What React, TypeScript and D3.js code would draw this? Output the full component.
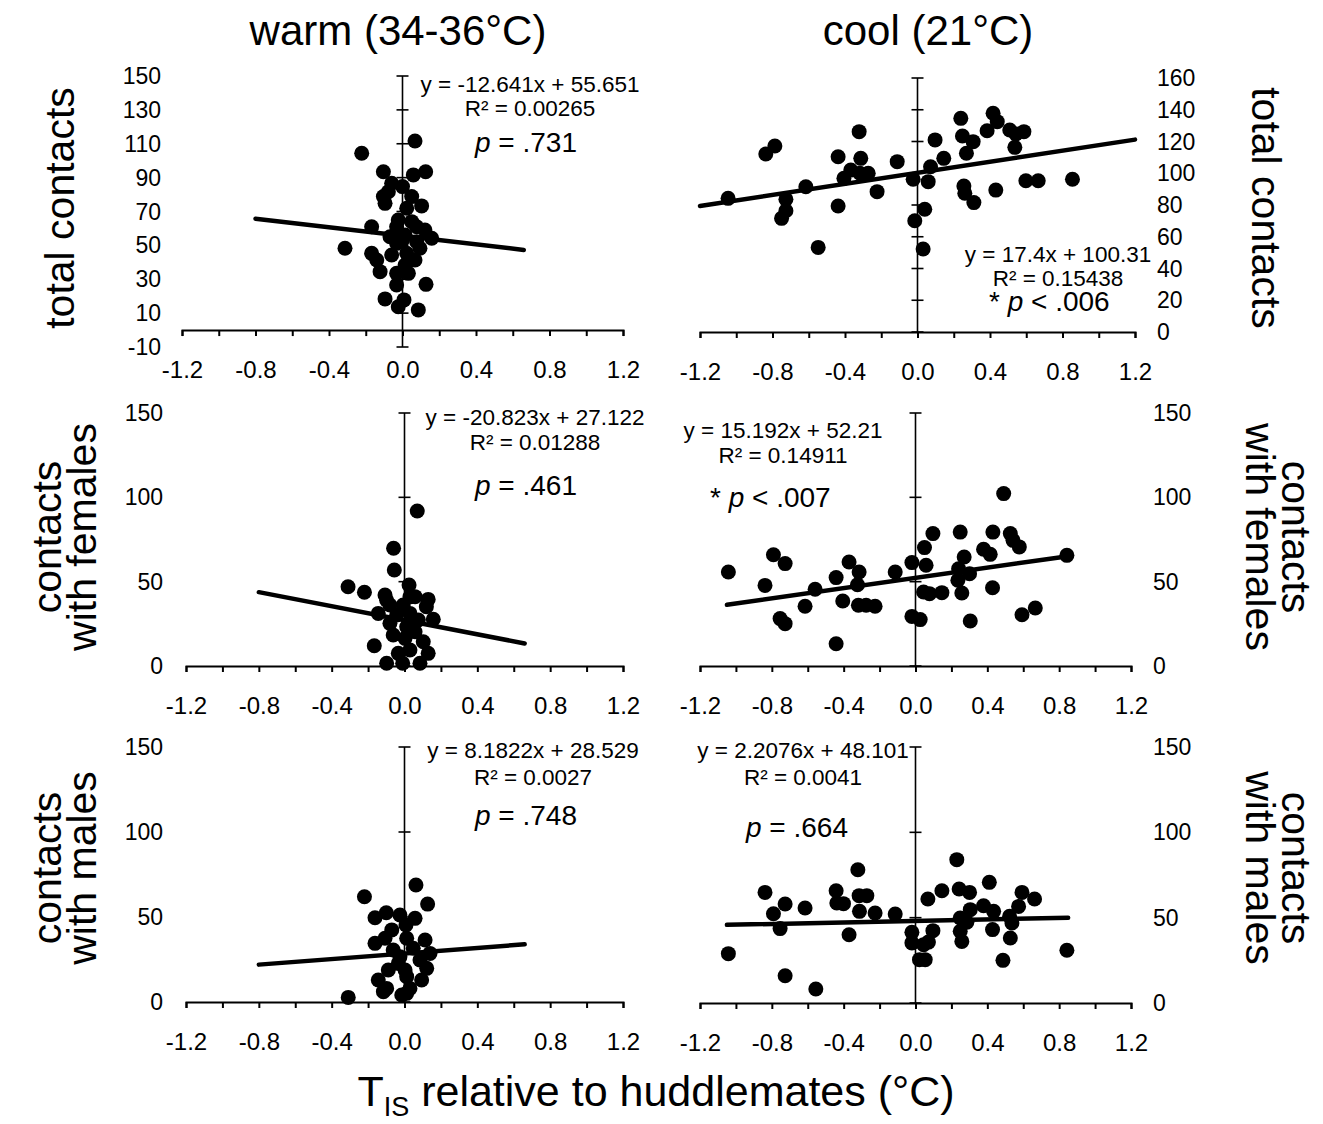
import React, { useEffect, useRef } from 'react';
import * as d3 from 'd3';

const W = 1323;
const H = 1124;
const FONT = '"Liberation Sans", Arial, Helvetica, sans-serif';

// ---- data: [T_IS relative (°C), contacts] ----
const warmTotal: [number, number][] = [
  [0.068, 111.6], [-0.222, 104.4], [-0.104, 93.5], [0.059, 91.6], [0.126, 93.5], [-0.059, 86.7],
  [0.0, 84.7], [-0.077, 81.7], [-0.104, 78.8], [0.05, 78.8], [-0.095, 74.8], [0.104, 73.3],
  [0.023, 71.9], [-0.023, 65], [0.05, 64], [-0.168, 61], [-0.032, 61], [0.122, 59.1],
  [-0.068, 55.1], [0.014, 56.1], [0.159, 54.2], [0.077, 52.2], [-0.313, 48.3], [-0.032, 51.2],
  [0.095, 48.3], [-0.168, 45.3], [-0.059, 44.3], [0.023, 45.3], [-0.14, 41.4], [0.068, 41.4],
  [0.014, 38.4], [-0.122, 34.5], [-0.032, 33.5], [0.032, 33.5], [-0.032, 26.6], [0.128, 27],
  [-0.095, 18.4], [0.008, 17.8], [-0.023, 13.8], [0.086, 11.9], [0.077, 61], [0.0, 53.2],
];

const warmFemales: [number, number][] = [
  [0.07, 91.9], [-0.06, 69.8], [-0.056, 56.9], [0.025, 48], [-0.31, 47], [-0.22, 43.7],
  [-0.107, 42.1], [0.058, 41.1], [0.13, 39.5], [-0.08, 36.2], [-0.007, 36.2], [0.12, 35.2],
  [-0.144, 31.2], [-0.043, 30.2], [0.03, 31.2], [0.076, 27.3], [0.158, 27.7], [-0.08, 25.3],
  [0.012, 23.3], [0.058, 20.3], [-0.062, 18.4], [0.003, 16.4], [0.103, 14.4], [-0.166, 12],
  [-0.034, 7.5], [0.03, 9.5], [0.13, 7.5], [-0.098, 1.6], [-0.01, 1.6], [0.085, 1.6],
  [-0.098, 39], [0.03, 41],
];

const warmMales: [number, number][] = [
  [0.063, 68.8], [-0.22, 61.9], [0.127, 57.6], [-0.162, 49.6], [-0.1, 52.5], [-0.025, 51.2],
  [0.058, 49.2], [0.008, 45.3], [-0.07, 42.4], [-0.107, 37.5], [-0.162, 34.5], [0.012, 37.5],
  [0.113, 36.5], [-0.062, 30.6], [0.048, 31.6], [0.14, 28.6], [-0.025, 26.6], [0.085, 24.7],
  [-0.089, 18.8], [0.003, 18.8], [0.122, 19.8], [-0.144, 12.9], [0.012, 14.9], [0.094, 12.9],
  [-0.116, 6.1], [-0.098, 8], [0.012, 5.1], [0.03, 8], [-0.309, 2.7], [-0.015, 4.1],
  [-0.034, 22.7],
];

const coolTotal: [number, number][] = [
  [-1.045, 84.2], [-0.837, 112.1], [-0.787, 117.2], [-0.726, 83.6], [-0.726, 76.4], [-0.75, 71.6],
  [-0.616, 91.5], [-0.548, 53.3], [-0.438, 110.4], [-0.438, 79.4], [-0.406, 96.8], [-0.368, 102],
  [-0.322, 126.2], [-0.313, 109.4], [-0.318, 100], [-0.272, 100], [-0.223, 88.4], [-0.112, 107.3],
  [-0.024, 96.2], [-0.015, 70.1], [0.04, 77.3], [0.031, 52.3], [0.059, 94.7], [0.072, 104.1],
  [0.097, 121], [0.145, 109.4], [0.239, 134.6], [0.248, 123.5], [0.27, 112.6], [0.307, 119.9],
  [0.256, 92], [0.261, 87.4], [0.311, 81.5], [0.384, 126.8], [0.417, 137.8], [0.44, 132.5],
  [0.432, 89.4], [0.509, 127.2], [0.543, 124.7], [0.587, 126.2], [0.537, 116.3], [0.598, 95.3],
  [0.666, 95.3], [0.855, 96.2],
];

const coolFemales: [number, number][] = [
  [-1.042, 55.7], [-0.838, 47.8], [-0.791, 66], [-0.726, 60.7], [-0.754, 28.1], [-0.726, 25.1],
  [-0.615, 35.4], [-0.559, 45.5], [-0.442, 52.4], [-0.442, 13.2], [-0.405, 38.5], [-0.37, 61.7],
  [-0.314, 55.7], [-0.323, 48.2], [-0.318, 36], [-0.275, 36], [-0.225, 35.4], [-0.113, 55.7],
  [-0.02, 61.3], [-0.02, 29.4], [0.026, 27.5], [0.05, 70.2], [0.059, 59.7], [0.045, 43.9],
  [0.078, 42.9], [0.097, 78.5], [0.147, 43.5], [0.249, 79.4], [0.24, 57.7], [0.236, 50.8],
  [0.258, 43.3], [0.271, 64.6], [0.301, 54.7], [0.305, 26.7], [0.379, 69.2], [0.416, 66.2],
  [0.431, 79.4], [0.429, 46.4], [0.491, 102.2], [0.528, 78.5], [0.543, 74.5], [0.578, 70.6],
  [0.593, 30.4], [0.667, 34.4], [0.843, 65.6],
];

const coolMales: [number, number][] = [
  [-1.042, 28.9], [-0.838, 64.8], [-0.791, 52.3], [-0.726, 58], [-0.754, 43.6], [-0.726, 16],
  [-0.615, 55.7], [-0.555, 8.2], [-0.442, 65.8], [-0.438, 58.6], [-0.401, 58.2], [-0.37, 40],
  [-0.321, 78.1], [-0.314, 62.9], [-0.271, 62.9], [-0.312, 53.7], [-0.225, 52.7], [-0.113, 52.1],
  [-0.02, 41.4], [-0.02, 35.2], [0.022, 25.4], [0.054, 25.4], [0.045, 34.2], [0.072, 35.7],
  [0.069, 60.9], [0.097, 42.4], [0.147, 65.8], [0.23, 84], [0.243, 66.8], [0.301, 64.8],
  [0.249, 49.8], [0.249, 42], [0.258, 36.1], [0.305, 54.7], [0.286, 47.3], [0.379, 57],
  [0.411, 70.7], [0.435, 53.7], [0.429, 43], [0.487, 25], [0.524, 50.8], [0.537, 46.9],
  [0.528, 38.1], [0.574, 56.6], [0.593, 64.8], [0.663, 60.9], [0.843, 30.9],
];

// linear fits: [slope, intercept, x from, x to]
const warmTotalFit = [-12.641, 55.651, -0.8, 0.66];
const warmFemalesFit = [-20.823, 27.122, -0.8, 0.66];
const warmMalesFit = [8.1822, 28.529, -0.8, 0.66];
const coolTotalFit = [17.4, 100.31, -1.2, 1.2];
const coolFemalesFit = [15.192, 52.21, -1.05, 0.85];
const coolMalesFit = [2.2076, 48.101, -1.05, 0.85];

// annotation text: [equation, R², p statement, significant?]
const warmTotalNote = ['y = -12.641x + 55.651', 'R² = 0.00265', '= .731', false];
const warmFemalesNote = ['y = -20.823x + 27.122', 'R² = 0.01288', '= .461', false];
const warmMalesNote = ['y = 8.1822x + 28.529', 'R² = 0.0027', '= .748', false];
const coolTotalNote = ['y = 17.4x + 100.31', 'R² = 0.15438', '< .006', true];
const coolFemalesNote = ['y = 15.192x + 52.21', 'R² = 0.14911', '< .007', true];
const coolMalesNote = ['y = 2.2076x + 48.101', 'R² = 0.0041', '= .664', false];

const xTicks = d3.range(-6, 7).map(i => i / 5); // -1.2 … 1.2 every 0.2
const totalWarmTicks = d3.range(-10, 151, 20);
const totalCoolTicks = d3.range(0, 161, 20);
const partnerTicks = [0, 50, 100, 150];

const columnTitles = ['warm (34-36°C)', 'cool (21°C)'];
const rowTitles = [['total contacts'], ['contacts', 'with females'], ['contacts', 'with males']];

const panels = [
  { data: warmTotal, fit: warmTotalFit, note: warmTotalNote, xr: [182, 623], yd: [-10, 150], yr: [347, 76], yt: totalWarmTicks, side: 'left', lx: 161, nx: 530, eqY: 92, r2Y: 116, px: 475, pY: 152 },
  { data: coolTotal, fit: coolTotalFit, note: coolTotalNote, xr: [700, 1135], yd: [0, 160], yr: [332, 78], yt: totalCoolTicks, side: 'right', lx: 1157, nx: 1058, eqY: 262, r2Y: 286, px: 989, pY: 311 },
  { data: warmFemales, fit: warmFemalesFit, note: warmFemalesNote, xr: [186, 623], yd: [0, 150], yr: [666, 413], yt: partnerTicks, side: 'left', lx: 163, nx: 535, eqY: 425, r2Y: 450, px: 475, pY: 495 },
  { data: coolFemales, fit: coolFemalesFit, note: coolFemalesNote, xr: [700, 1131], yd: [0, 150], yr: [666, 413], yt: partnerTicks, side: 'right', lx: 1153, nx: 783, eqY: 438, r2Y: 463, px: 710, pY: 507 },
  { data: warmMales, fit: warmMalesFit, note: warmMalesNote, xr: [186, 623], yd: [0, 150], yr: [1002, 747], yt: partnerTicks, side: 'left', lx: 163, nx: 533, eqY: 758, r2Y: 785, px: 475, pY: 825 },
  { data: coolMales, fit: coolMalesFit, note: coolMalesNote, xr: [700, 1131], yd: [0, 150], yr: [1003, 747], yt: partnerTicks, side: 'right', lx: 1153, nx: 803, eqY: 758, r2Y: 785, px: 746, pY: 837 },
];

const fmtX = (v: number) => (Math.abs(v) < 1e-9 ? '0.0' : v.toFixed(1));

const App = () => {
  const svgRef = useRef<SVGSVGElement | null>(null);

  useEffect(() => {
    if (!svgRef.current) return;
    const svg = d3.select(svgRef.current);
    svg.selectAll('*').remove();

    svg.append('rect').attr('width', W).attr('height', H).attr('fill', '#fff');

    panels.forEach(p => {
      const x = d3.scaleLinear().domain([-1.2, 1.2]).range(p.xr);
      const y = d3.scaleLinear().domain(p.yd).range(p.yr);
      const g = svg.append('g');

      // x axis (crosses at y = 0), ticks every 0.2, labels every 0.4
      g.append('g')
        .attr('transform', `translate(0,${y(0)})`)
        .call(d3.axisBottom(x)
          .tickValues(xTicks)
          .tickSize(6)
          .tickSizeOuter(6)
          .tickPadding(25)
          .tickFormat((v: any) => (Math.round(v * 10) % 4 === 0 ? fmtX(v) : '')))
        .attr('font-family', FONT)
        .attr('font-size', 24)
        .call(a => a.select('.domain').attr('stroke', '#000').attr('stroke-width', 2))
        .call(a => a.selectAll('.tick line').attr('stroke', '#000').attr('stroke-width', 2))
        .call(a => a.selectAll('.tick text').attr('fill', '#000'));

      // vertical axis at x = 0 with crossing ticks
      const x0 = x(0);
      g.append('line')
        .attr('x1', x0).attr('x2', x0)
        .attr('y1', y(p.yd[0])).attr('y2', y(p.yd[1]))
        .attr('stroke', '#000').attr('stroke-width', 1.6);
      g.selectAll('.ytick')
        .data(p.yt)
        .enter().append('line')
        .attr('x1', x0 - 6).attr('x2', x0 + 6)
        .attr('y1', d => y(d)).attr('y2', d => y(d))
        .attr('stroke', '#000').attr('stroke-width', 1.6);

      // y tick labels, placed at the outer edge of the panel
      g.selectAll('.ylab')
        .data(p.yt)
        .enter().append('text')
        .attr('x', p.lx)
        .attr('y', d => y(d))
        .attr('dy', '0.35em')
        .attr('text-anchor', p.side === 'left' ? 'end' : 'start')
        .attr('font-family', FONT)
        .attr('font-size', 23)
        .attr('fill', '#000')
        .text(d => String(d));

      // points
      g.selectAll('circle')
        .data(p.data)
        .enter().append('circle')
        .attr('cx', d => x(d[0]))
        .attr('cy', d => y(d[1]))
        .attr('r', 7.5)
        .attr('fill', '#000');

      // trend line
      const [slope, icpt, from, to] = p.fit as number[];
      const line = d3.line<number>().x(v => x(v)).y(v => y(slope * v + icpt));
      g.append('path')
        .datum([from, to])
        .attr('d', line)
        .attr('fill', 'none')
        .attr('stroke', '#000')
        .attr('stroke-width', 4.5)
        .attr('stroke-linecap', 'round');

      // equation text
      const [eq, r2, pText, sig] = p.note as [string, string, string, boolean];
      const notes = g.append('g').attr('font-family', FONT).attr('fill', '#000');
      notes.append('text').attr('x', p.nx).attr('y', p.eqY).attr('text-anchor', 'middle')
        .attr('font-size', 22.5).text(eq);
      notes.append('text').attr('x', p.nx).attr('y', p.r2Y).attr('text-anchor', 'middle')
        .attr('font-size', 22.5).text(r2);
      const pt = notes.append('text').attr('x', p.px).attr('y', p.pY).attr('font-size', 28);
      if (sig) pt.append('tspan').text('* ');
      pt.append('tspan').attr('font-style', 'italic').text('p');
      pt.append('tspan').text(' ' + pText);
    });

    // column titles
    svg.selectAll('.coltitle')
      .data(columnTitles)
      .enter().append('text')
      .attr('x', (d, i) => (i === 0 ? 398 : 928))
      .attr('y', 45)
      .attr('text-anchor', 'middle')
      .attr('font-family', FONT)
      .attr('font-size', 42)
      .attr('fill', '#000')
      .text(d => d);

    // row titles, both sides
    const rowCenters = [208, 537, 868];
    rowTitles.forEach((lines, r) => {
      const cy = rowCenters[r];
      const n = lines.length;
      lines.forEach((txt, k) => {
        const leftX = n === 1 ? 60 : (k === 0 ? 47 : 82);
        const rightX = n === 1 ? 1266 : (k === 0 ? 1296 : 1260);
        svg.append('text')
          .attr('transform', `translate(${leftX},${cy}) rotate(-90)`)
          .attr('text-anchor', 'middle')
          .attr('dominant-baseline', 'central')
          .attr('font-family', FONT)
          .attr('font-size', 41)
          .attr('fill', '#000')
          .text(txt);
        svg.append('text')
          .attr('transform', `translate(${rightX},${cy}) rotate(90)`)
          .attr('text-anchor', 'middle')
          .attr('dominant-baseline', 'central')
          .attr('font-family', FONT)
          .attr('font-size', 41)
          .attr('fill', '#000')
          .text(txt);
      });
    });

    // bottom axis title with subscript
    const xt = svg.append('text')
      .attr('x', 656)
      .attr('y', 1106)
      .attr('text-anchor', 'middle')
      .attr('font-family', FONT)
      .attr('font-size', 43)
      .attr('fill', '#000');
    xt.append('tspan').text('T');
    xt.append('tspan').attr('font-size', 27).attr('dy', 10).text('IS');
    xt.append('tspan').attr('dy', -10).text(' relative to huddlemates (°C)');
  }, []);

  return (
    <svg
      ref={svgRef}
      width={W}
      height={H}
      style={{ position: 'absolute', left: 0, top: 0, display: 'block' }}
    />
  );
};

export default App;
